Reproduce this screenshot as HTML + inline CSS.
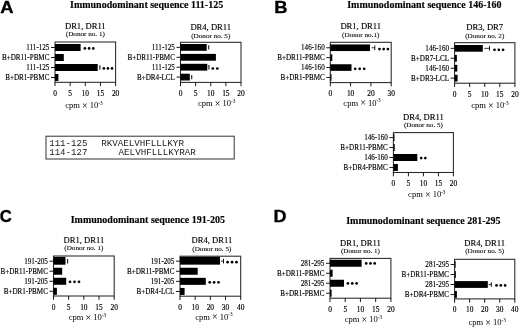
<!DOCTYPE html>
<html><head><meta charset="utf-8"><style>
html,body{margin:0;padding:0;background:#fff;}
body{width:520px;height:328px;overflow:hidden;}
svg{display:block;filter:grayscale(1) blur(0.3px);}
</style></head><body>
<svg width="520" height="328" viewBox="0 0 520 328">
<rect width="520" height="328" fill="#fff"/>
<text transform="translate(0.20,13.10) scale(1.07,1)" x="0" y="0" font-size="17.2" text-anchor="start" font-weight="bold" font-family='"Liberation Sans", sans-serif' fill="#000"  stroke="#000" stroke-width="0.35">A</text>
<text transform="translate(274.30,12.75) scale(1.07,1)" x="0" y="0" font-size="17.2" text-anchor="start" font-weight="bold" font-family='"Liberation Sans", sans-serif' fill="#000"  stroke="#000" stroke-width="0.35">B</text>
<text transform="translate(-0.30,221.80) scale(0.97,1)" x="0" y="0" font-size="17.2" text-anchor="start" font-weight="bold" font-family='"Liberation Sans", sans-serif' fill="#000"  stroke="#000" stroke-width="0.35">C</text>
<text transform="translate(273.50,221.70) scale(1.05,1)" x="0" y="0" font-size="17.2" text-anchor="start" font-weight="bold" font-family='"Liberation Sans", sans-serif' fill="#000"  stroke="#000" stroke-width="0.35">D</text>
<text transform="translate(70.00,7.50) scale(0.962,1)" x="0" y="0" font-size="10.4" text-anchor="start" font-weight="bold" font-family='"Liberation Serif", serif' fill="#000"  stroke="#000" stroke-width="0.15">Immunodominant sequence 111-125</text>
<text transform="translate(347.20,8.30) scale(0.962,1)" x="0" y="0" font-size="10.4" text-anchor="start" font-weight="bold" font-family='"Liberation Serif", serif' fill="#000"  stroke="#000" stroke-width="0.15">Immunodominant sequence 146-160</text>
<text transform="translate(70.70,222.80) scale(0.962,1)" x="0" y="0" font-size="10.4" text-anchor="start" font-weight="bold" font-family='"Liberation Serif", serif' fill="#000"  stroke="#000" stroke-width="0.15">Immunodominant sequence 191-205</text>
<text transform="translate(346.20,223.60) scale(0.962,1)" x="0" y="0" font-size="10.4" text-anchor="start" font-weight="bold" font-family='"Liberation Serif", serif' fill="#000"  stroke="#000" stroke-width="0.15">Immunodominant sequence 281-295</text>
<rect x="55.00" y="42.00" width="60.60" height="40.30" fill="none" stroke="#262626" stroke-width="1.05"/>
<text x="85.30" y="29.00" font-size="8.6" text-anchor="middle" font-weight="normal" font-family='"Liberation Serif", serif' fill="#000"  stroke="#000" stroke-width="0.15">DR1, DR11</text>
<text transform="translate(85.30,36.40) scale(1.05,1)" x="0" y="0" font-size="6.8" text-anchor="middle" font-weight="normal" font-family='"Liberation Serif", serif' fill="#000"  stroke="#000" stroke-width="0.08">(Donor no. 1)</text>
<line x1="51.00" y1="47.50" x2="55.00" y2="47.50" stroke="#000" stroke-width="0.9"/>
<text transform="translate(49.40,50.00) scale(0.935,1)" x="0" y="0" font-size="7.6" text-anchor="end" font-weight="normal" font-family='"Liberation Serif", serif' fill="#000"  stroke="#000" stroke-width="0.15">111-125</text>
<rect x="55.00" y="44.00" width="25.60" height="7.00" fill="#000"/>
<line x1="51.00" y1="57.50" x2="55.00" y2="57.50" stroke="#000" stroke-width="0.9"/>
<text transform="translate(49.40,60.00) scale(0.935,1)" x="0" y="0" font-size="7.6" text-anchor="end" font-weight="normal" font-family='"Liberation Serif", serif' fill="#000"  stroke="#000" stroke-width="0.15">B+DR11-PBMC</text>
<rect x="55.00" y="54.00" width="8.80" height="7.00" fill="#000"/>
<line x1="51.00" y1="67.50" x2="55.00" y2="67.50" stroke="#000" stroke-width="0.9"/>
<text transform="translate(49.40,70.00) scale(0.935,1)" x="0" y="0" font-size="7.6" text-anchor="end" font-weight="normal" font-family='"Liberation Serif", serif' fill="#000"  stroke="#000" stroke-width="0.15">111-125</text>
<rect x="55.00" y="64.00" width="42.70" height="7.00" fill="#000"/>
<line x1="51.00" y1="77.50" x2="55.00" y2="77.50" stroke="#000" stroke-width="0.9"/>
<text transform="translate(49.40,80.00) scale(0.935,1)" x="0" y="0" font-size="7.6" text-anchor="end" font-weight="normal" font-family='"Liberation Serif", serif' fill="#000"  stroke="#000" stroke-width="0.15">B+DR1-PBMC</text>
<rect x="55.00" y="74.00" width="3.40" height="7.00" fill="#000"/>
<line x1="55.00" y1="82.30" x2="55.00" y2="86.10" stroke="#000" stroke-width="0.9"/>
<text x="55.00" y="95.80" font-size="7.4" text-anchor="middle" font-weight="normal" font-family='"Liberation Serif", serif' fill="#000"  stroke="#000" stroke-width="0.15">0</text>
<line x1="70.15" y1="82.30" x2="70.15" y2="86.10" stroke="#000" stroke-width="0.9"/>
<text x="70.15" y="95.80" font-size="7.4" text-anchor="middle" font-weight="normal" font-family='"Liberation Serif", serif' fill="#000"  stroke="#000" stroke-width="0.15">5</text>
<line x1="85.30" y1="82.30" x2="85.30" y2="86.10" stroke="#000" stroke-width="0.9"/>
<text x="85.30" y="95.80" font-size="7.4" text-anchor="middle" font-weight="normal" font-family='"Liberation Serif", serif' fill="#000"  stroke="#000" stroke-width="0.15">10</text>
<line x1="100.45" y1="82.30" x2="100.45" y2="86.10" stroke="#000" stroke-width="0.9"/>
<text x="100.45" y="95.80" font-size="7.4" text-anchor="middle" font-weight="normal" font-family='"Liberation Serif", serif' fill="#000"  stroke="#000" stroke-width="0.15">15</text>
<line x1="115.60" y1="82.30" x2="115.60" y2="86.10" stroke="#000" stroke-width="0.9"/>
<text x="115.60" y="95.80" font-size="7.4" text-anchor="middle" font-weight="normal" font-family='"Liberation Serif", serif' fill="#000"  stroke="#000" stroke-width="0.15">20</text>
<text x="84.00" y="108.20" font-size="8.5" text-anchor="middle" font-family='"Liberation Serif", serif' fill="#000">cpm <tspan font-size="10" dy="0.8">×</tspan> <tspan dy="-0.8">10</tspan><tspan font-size="5.2" dy="-3.3">-3</tspan></text>
<circle cx="84.90" cy="48.45" r="1.35" fill="#000"/>
<circle cx="89.10" cy="48.45" r="1.35" fill="#000"/>
<circle cx="93.30" cy="48.45" r="1.35" fill="#000"/>
<line x1="99.90" y1="65.30" x2="99.90" y2="69.70" stroke="#222" stroke-width="1.15"/>
<circle cx="103.80" cy="68.45" r="1.35" fill="#000"/>
<circle cx="107.90" cy="68.45" r="1.35" fill="#000"/>
<circle cx="112.00" cy="68.45" r="1.35" fill="#000"/>
<rect x="180.50" y="42.30" width="60.50" height="40.10" fill="none" stroke="#262626" stroke-width="1.05"/>
<text x="210.75" y="30.40" font-size="8.6" text-anchor="middle" font-weight="normal" font-family='"Liberation Serif", serif' fill="#000"  stroke="#000" stroke-width="0.15">DR4, DR11</text>
<text transform="translate(210.75,37.70) scale(1.05,1)" x="0" y="0" font-size="6.8" text-anchor="middle" font-weight="normal" font-family='"Liberation Serif", serif' fill="#000"  stroke="#000" stroke-width="0.08">(Donor no. 5)</text>
<line x1="176.50" y1="47.40" x2="180.50" y2="47.40" stroke="#000" stroke-width="0.9"/>
<text transform="translate(174.90,49.90) scale(0.935,1)" x="0" y="0" font-size="7.6" text-anchor="end" font-weight="normal" font-family='"Liberation Serif", serif' fill="#000"  stroke="#000" stroke-width="0.15">111-125</text>
<rect x="180.50" y="44.00" width="26.20" height="6.80" fill="#000"/>
<line x1="176.50" y1="57.30" x2="180.50" y2="57.30" stroke="#000" stroke-width="0.9"/>
<text transform="translate(174.90,59.80) scale(0.935,1)" x="0" y="0" font-size="7.6" text-anchor="end" font-weight="normal" font-family='"Liberation Serif", serif' fill="#000"  stroke="#000" stroke-width="0.15">B+DR11-PBMC</text>
<rect x="180.50" y="53.90" width="35.40" height="6.80" fill="#000"/>
<line x1="176.50" y1="67.20" x2="180.50" y2="67.20" stroke="#000" stroke-width="0.9"/>
<text transform="translate(174.90,69.70) scale(0.935,1)" x="0" y="0" font-size="7.6" text-anchor="end" font-weight="normal" font-family='"Liberation Serif", serif' fill="#000"  stroke="#000" stroke-width="0.15">111-125</text>
<rect x="180.50" y="63.80" width="26.80" height="6.80" fill="#000"/>
<line x1="176.50" y1="77.10" x2="180.50" y2="77.10" stroke="#000" stroke-width="0.9"/>
<text transform="translate(174.90,79.60) scale(0.935,1)" x="0" y="0" font-size="7.6" text-anchor="end" font-weight="normal" font-family='"Liberation Serif", serif' fill="#000"  stroke="#000" stroke-width="0.15">B+DR4-LCL</text>
<rect x="180.50" y="73.70" width="9.30" height="6.80" fill="#000"/>
<line x1="180.50" y1="82.40" x2="180.50" y2="86.20" stroke="#000" stroke-width="0.9"/>
<text x="180.50" y="95.90" font-size="7.4" text-anchor="middle" font-weight="normal" font-family='"Liberation Serif", serif' fill="#000"  stroke="#000" stroke-width="0.15">0</text>
<line x1="195.62" y1="82.40" x2="195.62" y2="86.20" stroke="#000" stroke-width="0.9"/>
<text x="195.62" y="95.90" font-size="7.4" text-anchor="middle" font-weight="normal" font-family='"Liberation Serif", serif' fill="#000"  stroke="#000" stroke-width="0.15">5</text>
<line x1="210.75" y1="82.40" x2="210.75" y2="86.20" stroke="#000" stroke-width="0.9"/>
<text x="210.75" y="95.90" font-size="7.4" text-anchor="middle" font-weight="normal" font-family='"Liberation Serif", serif' fill="#000"  stroke="#000" stroke-width="0.15">10</text>
<line x1="225.88" y1="82.40" x2="225.88" y2="86.20" stroke="#000" stroke-width="0.9"/>
<text x="225.88" y="95.90" font-size="7.4" text-anchor="middle" font-weight="normal" font-family='"Liberation Serif", serif' fill="#000"  stroke="#000" stroke-width="0.15">15</text>
<line x1="241.00" y1="82.40" x2="241.00" y2="86.20" stroke="#000" stroke-width="0.9"/>
<text x="241.00" y="95.90" font-size="7.4" text-anchor="middle" font-weight="normal" font-family='"Liberation Serif", serif' fill="#000"  stroke="#000" stroke-width="0.15">20</text>
<text x="216.75" y="106.40" font-size="8.5" text-anchor="middle" font-family='"Liberation Serif", serif' fill="#000">cpm <tspan font-size="10" dy="0.8">×</tspan> <tspan dy="-0.8">10</tspan><tspan font-size="5.2" dy="-3.3">-3</tspan></text>
<line x1="208.70" y1="45.20" x2="208.70" y2="49.60" stroke="#222" stroke-width="1.15"/>
<line x1="208.90" y1="65.00" x2="208.90" y2="69.40" stroke="#222" stroke-width="1.15"/>
<circle cx="212.80" cy="68.50" r="1.35" fill="#000"/>
<circle cx="217.30" cy="68.50" r="1.35" fill="#000"/>
<line x1="191.70" y1="74.90" x2="191.70" y2="79.30" stroke="#222" stroke-width="1.15"/>
<rect x="330.30" y="42.30" width="60.90" height="40.30" fill="none" stroke="#262626" stroke-width="1.05"/>
<text x="360.75" y="29.30" font-size="8.6" text-anchor="middle" font-weight="normal" font-family='"Liberation Serif", serif' fill="#000"  stroke="#000" stroke-width="0.15">DR1, DR11</text>
<text transform="translate(360.75,37.10) scale(1.05,1)" x="0" y="0" font-size="6.8" text-anchor="middle" font-weight="normal" font-family='"Liberation Serif", serif' fill="#000"  stroke="#000" stroke-width="0.08">(Donor no.1)</text>
<line x1="326.30" y1="47.75" x2="330.30" y2="47.75" stroke="#000" stroke-width="0.9"/>
<text transform="translate(324.70,50.25) scale(0.935,1)" x="0" y="0" font-size="7.6" text-anchor="end" font-weight="normal" font-family='"Liberation Serif", serif' fill="#000"  stroke="#000" stroke-width="0.15">146-160</text>
<rect x="330.30" y="44.45" width="39.70" height="6.60" fill="#000"/>
<line x1="326.30" y1="57.65" x2="330.30" y2="57.65" stroke="#000" stroke-width="0.9"/>
<text transform="translate(324.70,60.15) scale(0.935,1)" x="0" y="0" font-size="7.6" text-anchor="end" font-weight="normal" font-family='"Liberation Serif", serif' fill="#000"  stroke="#000" stroke-width="0.15">B+DR11-PBMC</text>
<rect x="330.30" y="54.35" width="2.00" height="6.60" fill="#000"/>
<line x1="326.30" y1="67.55" x2="330.30" y2="67.55" stroke="#000" stroke-width="0.9"/>
<text transform="translate(324.70,70.05) scale(0.935,1)" x="0" y="0" font-size="7.6" text-anchor="end" font-weight="normal" font-family='"Liberation Serif", serif' fill="#000"  stroke="#000" stroke-width="0.15">146-160</text>
<rect x="330.30" y="64.25" width="21.20" height="6.60" fill="#000"/>
<line x1="326.30" y1="77.45" x2="330.30" y2="77.45" stroke="#000" stroke-width="0.9"/>
<text transform="translate(324.70,79.95) scale(0.935,1)" x="0" y="0" font-size="7.6" text-anchor="end" font-weight="normal" font-family='"Liberation Serif", serif' fill="#000"  stroke="#000" stroke-width="0.15">B+DR1-PBMC</text>
<rect x="330.30" y="74.15" width="1.20" height="6.60" fill="#000"/>
<line x1="330.30" y1="82.60" x2="330.30" y2="86.40" stroke="#000" stroke-width="0.9"/>
<text x="330.30" y="96.10" font-size="7.4" text-anchor="middle" font-weight="normal" font-family='"Liberation Serif", serif' fill="#000"  stroke="#000" stroke-width="0.15">0</text>
<line x1="350.60" y1="82.60" x2="350.60" y2="86.40" stroke="#000" stroke-width="0.9"/>
<text x="350.60" y="96.10" font-size="7.4" text-anchor="middle" font-weight="normal" font-family='"Liberation Serif", serif' fill="#000"  stroke="#000" stroke-width="0.15">10</text>
<line x1="370.90" y1="82.60" x2="370.90" y2="86.40" stroke="#000" stroke-width="0.9"/>
<text x="370.90" y="96.10" font-size="7.4" text-anchor="middle" font-weight="normal" font-family='"Liberation Serif", serif' fill="#000"  stroke="#000" stroke-width="0.15">20</text>
<line x1="391.20" y1="82.60" x2="391.20" y2="86.40" stroke="#000" stroke-width="0.9"/>
<text x="391.20" y="96.10" font-size="7.4" text-anchor="middle" font-weight="normal" font-family='"Liberation Serif", serif' fill="#000"  stroke="#000" stroke-width="0.15">30</text>
<text x="362.05" y="105.60" font-size="8.5" text-anchor="middle" font-family='"Liberation Serif", serif' fill="#000">cpm <tspan font-size="10" dy="0.8">×</tspan> <tspan dy="-0.8">10</tspan><tspan font-size="5.2" dy="-3.3">-3</tspan></text>
<line x1="371.60" y1="47.75" x2="374.80" y2="47.75" stroke="#222" stroke-width="0.9"/>
<line x1="374.80" y1="45.45" x2="374.80" y2="50.05" stroke="#111" stroke-width="1.0"/>
<circle cx="379.50" cy="49.05" r="1.35" fill="#000"/>
<circle cx="383.70" cy="49.05" r="1.35" fill="#000"/>
<circle cx="387.90" cy="49.05" r="1.35" fill="#000"/>
<circle cx="355.20" cy="68.85" r="1.35" fill="#000"/>
<circle cx="359.70" cy="68.85" r="1.35" fill="#000"/>
<circle cx="364.20" cy="68.85" r="1.35" fill="#000"/>
<rect x="454.60" y="42.70" width="60.30" height="40.50" fill="none" stroke="#262626" stroke-width="1.05"/>
<text x="484.75" y="30.10" font-size="8.6" text-anchor="middle" font-weight="normal" font-family='"Liberation Serif", serif' fill="#000"  stroke="#000" stroke-width="0.15">DR3, DR7</text>
<text transform="translate(484.75,37.50) scale(1.05,1)" x="0" y="0" font-size="6.8" text-anchor="middle" font-weight="normal" font-family='"Liberation Serif", serif' fill="#000"  stroke="#000" stroke-width="0.08">(Donor no. 2)</text>
<line x1="450.60" y1="48.35" x2="454.60" y2="48.35" stroke="#000" stroke-width="0.9"/>
<text transform="translate(449.00,50.85) scale(0.935,1)" x="0" y="0" font-size="7.6" text-anchor="end" font-weight="normal" font-family='"Liberation Serif", serif' fill="#000"  stroke="#000" stroke-width="0.15">146-160</text>
<rect x="454.60" y="45.00" width="28.20" height="6.70" fill="#000"/>
<line x1="450.60" y1="58.28" x2="454.60" y2="58.28" stroke="#000" stroke-width="0.9"/>
<text transform="translate(449.00,60.78) scale(0.935,1)" x="0" y="0" font-size="7.6" text-anchor="end" font-weight="normal" font-family='"Liberation Serif", serif' fill="#000"  stroke="#000" stroke-width="0.15">B+DR7-LCL</text>
<rect x="454.60" y="54.93" width="2.30" height="6.70" fill="#000"/>
<line x1="450.60" y1="68.21" x2="454.60" y2="68.21" stroke="#000" stroke-width="0.9"/>
<text transform="translate(449.00,70.71) scale(0.935,1)" x="0" y="0" font-size="7.6" text-anchor="end" font-weight="normal" font-family='"Liberation Serif", serif' fill="#000"  stroke="#000" stroke-width="0.15">146-160</text>
<rect x="454.60" y="64.86" width="2.70" height="6.70" fill="#000"/>
<line x1="450.60" y1="78.14" x2="454.60" y2="78.14" stroke="#000" stroke-width="0.9"/>
<text transform="translate(449.00,80.64) scale(0.935,1)" x="0" y="0" font-size="7.6" text-anchor="end" font-weight="normal" font-family='"Liberation Serif", serif' fill="#000"  stroke="#000" stroke-width="0.15">B+DR3-LCL</text>
<rect x="454.60" y="74.79" width="3.00" height="6.70" fill="#000"/>
<line x1="454.60" y1="83.20" x2="454.60" y2="87.00" stroke="#000" stroke-width="0.9"/>
<text x="454.60" y="96.70" font-size="7.4" text-anchor="middle" font-weight="normal" font-family='"Liberation Serif", serif' fill="#000"  stroke="#000" stroke-width="0.15">0</text>
<line x1="469.68" y1="83.20" x2="469.68" y2="87.00" stroke="#000" stroke-width="0.9"/>
<text x="469.68" y="96.70" font-size="7.4" text-anchor="middle" font-weight="normal" font-family='"Liberation Serif", serif' fill="#000"  stroke="#000" stroke-width="0.15">5</text>
<line x1="484.75" y1="83.20" x2="484.75" y2="87.00" stroke="#000" stroke-width="0.9"/>
<text x="484.75" y="96.70" font-size="7.4" text-anchor="middle" font-weight="normal" font-family='"Liberation Serif", serif' fill="#000"  stroke="#000" stroke-width="0.15">10</text>
<line x1="499.82" y1="83.20" x2="499.82" y2="87.00" stroke="#000" stroke-width="0.9"/>
<text x="499.82" y="96.70" font-size="7.4" text-anchor="middle" font-weight="normal" font-family='"Liberation Serif", serif' fill="#000"  stroke="#000" stroke-width="0.15">15</text>
<line x1="514.90" y1="83.20" x2="514.90" y2="87.00" stroke="#000" stroke-width="0.9"/>
<text x="514.90" y="96.70" font-size="7.4" text-anchor="middle" font-weight="normal" font-family='"Liberation Serif", serif' fill="#000"  stroke="#000" stroke-width="0.15">20</text>
<text x="489.85" y="107.80" font-size="8.5" text-anchor="middle" font-family='"Liberation Serif", serif' fill="#000">cpm <tspan font-size="10" dy="0.8">×</tspan> <tspan dy="-0.8">10</tspan><tspan font-size="5.2" dy="-3.3">-3</tspan></text>
<line x1="484.20" y1="48.35" x2="489.50" y2="48.35" stroke="#222" stroke-width="0.9"/>
<line x1="489.50" y1="46.05" x2="489.50" y2="50.65" stroke="#111" stroke-width="1.0"/>
<circle cx="494.50" cy="49.85" r="1.35" fill="#000"/>
<circle cx="498.80" cy="49.85" r="1.35" fill="#000"/>
<circle cx="503.10" cy="49.85" r="1.35" fill="#000"/>
<rect x="393.40" y="132.60" width="60.00" height="39.90" fill="none" stroke="#262626" stroke-width="1.05"/>
<text x="423.40" y="120.40" font-size="8.6" text-anchor="middle" font-weight="normal" font-family='"Liberation Serif", serif' fill="#000"  stroke="#000" stroke-width="0.15">DR4, DR11</text>
<text transform="translate(423.40,127.30) scale(1.05,1)" x="0" y="0" font-size="6.8" text-anchor="middle" font-weight="normal" font-family='"Liberation Serif", serif' fill="#000"  stroke="#000" stroke-width="0.08">(Donor no. 5)</text>
<line x1="389.40" y1="137.60" x2="393.40" y2="137.60" stroke="#000" stroke-width="0.9"/>
<text transform="translate(387.80,140.10) scale(0.935,1)" x="0" y="0" font-size="7.6" text-anchor="end" font-weight="normal" font-family='"Liberation Serif", serif' fill="#000"  stroke="#000" stroke-width="0.15">146-160</text>
<rect x="393.40" y="134.10" width="1.10" height="7.00" fill="#000"/>
<line x1="389.40" y1="147.55" x2="393.40" y2="147.55" stroke="#000" stroke-width="0.9"/>
<text transform="translate(387.80,150.05) scale(0.935,1)" x="0" y="0" font-size="7.6" text-anchor="end" font-weight="normal" font-family='"Liberation Serif", serif' fill="#000"  stroke="#000" stroke-width="0.15">B+DR11-PBMC</text>
<rect x="393.40" y="144.05" width="1.30" height="7.00" fill="#000"/>
<line x1="389.40" y1="157.50" x2="393.40" y2="157.50" stroke="#000" stroke-width="0.9"/>
<text transform="translate(387.80,160.00) scale(0.935,1)" x="0" y="0" font-size="7.6" text-anchor="end" font-weight="normal" font-family='"Liberation Serif", serif' fill="#000"  stroke="#000" stroke-width="0.15">146-160</text>
<rect x="393.40" y="154.00" width="23.90" height="7.00" fill="#000"/>
<line x1="389.40" y1="167.45" x2="393.40" y2="167.45" stroke="#000" stroke-width="0.9"/>
<text transform="translate(387.80,169.95) scale(0.935,1)" x="0" y="0" font-size="7.6" text-anchor="end" font-weight="normal" font-family='"Liberation Serif", serif' fill="#000"  stroke="#000" stroke-width="0.15">B+DR4-PBMC</text>
<rect x="393.40" y="163.95" width="4.50" height="7.00" fill="#000"/>
<line x1="393.40" y1="172.50" x2="393.40" y2="176.30" stroke="#000" stroke-width="0.9"/>
<text x="393.40" y="186.00" font-size="7.4" text-anchor="middle" font-weight="normal" font-family='"Liberation Serif", serif' fill="#000"  stroke="#000" stroke-width="0.15">0</text>
<line x1="408.40" y1="172.50" x2="408.40" y2="176.30" stroke="#000" stroke-width="0.9"/>
<text x="408.40" y="186.00" font-size="7.4" text-anchor="middle" font-weight="normal" font-family='"Liberation Serif", serif' fill="#000"  stroke="#000" stroke-width="0.15">5</text>
<line x1="423.40" y1="172.50" x2="423.40" y2="176.30" stroke="#000" stroke-width="0.9"/>
<text x="423.40" y="186.00" font-size="7.4" text-anchor="middle" font-weight="normal" font-family='"Liberation Serif", serif' fill="#000"  stroke="#000" stroke-width="0.15">10</text>
<line x1="438.40" y1="172.50" x2="438.40" y2="176.30" stroke="#000" stroke-width="0.9"/>
<text x="438.40" y="186.00" font-size="7.4" text-anchor="middle" font-weight="normal" font-family='"Liberation Serif", serif' fill="#000"  stroke="#000" stroke-width="0.15">15</text>
<line x1="453.40" y1="172.50" x2="453.40" y2="176.30" stroke="#000" stroke-width="0.9"/>
<text x="453.40" y="186.00" font-size="7.4" text-anchor="middle" font-weight="normal" font-family='"Liberation Serif", serif' fill="#000"  stroke="#000" stroke-width="0.15">20</text>
<text x="426.80" y="196.80" font-size="8.5" text-anchor="middle" font-family='"Liberation Serif", serif' fill="#000">cpm <tspan font-size="10" dy="0.8">×</tspan> <tspan dy="-0.8">10</tspan><tspan font-size="5.2" dy="-3.3">-3</tspan></text>
<circle cx="421.20" cy="158.10" r="1.35" fill="#000"/>
<circle cx="425.30" cy="158.10" r="1.35" fill="#000"/>
<rect x="53.50" y="256.00" width="60.70" height="40.00" fill="none" stroke="#262626" stroke-width="1.05"/>
<text x="83.85" y="242.80" font-size="8.6" text-anchor="middle" font-weight="normal" font-family='"Liberation Serif", serif' fill="#000"  stroke="#000" stroke-width="0.15">DR1, DR11</text>
<text transform="translate(83.85,250.45) scale(1.05,1)" x="0" y="0" font-size="6.8" text-anchor="middle" font-weight="normal" font-family='"Liberation Serif", serif' fill="#000"  stroke="#000" stroke-width="0.08">(Donor no. 1)</text>
<line x1="49.50" y1="261.20" x2="53.50" y2="261.20" stroke="#000" stroke-width="0.9"/>
<text transform="translate(47.90,263.70) scale(0.935,1)" x="0" y="0" font-size="7.6" text-anchor="end" font-weight="normal" font-family='"Liberation Serif", serif' fill="#000"  stroke="#000" stroke-width="0.15">191-205</text>
<rect x="53.50" y="256.90" width="12.00" height="7.80" fill="#000"/>
<line x1="49.50" y1="271.23" x2="53.50" y2="271.23" stroke="#000" stroke-width="0.9"/>
<text transform="translate(47.90,273.73) scale(0.935,1)" x="0" y="0" font-size="7.6" text-anchor="end" font-weight="normal" font-family='"Liberation Serif", serif' fill="#000"  stroke="#000" stroke-width="0.15">B+DR11-PBMC</text>
<rect x="53.50" y="267.73" width="8.70" height="7.00" fill="#000"/>
<line x1="49.50" y1="281.26" x2="53.50" y2="281.26" stroke="#000" stroke-width="0.9"/>
<text transform="translate(47.90,283.76) scale(0.935,1)" x="0" y="0" font-size="7.6" text-anchor="end" font-weight="normal" font-family='"Liberation Serif", serif' fill="#000"  stroke="#000" stroke-width="0.15">191-205</text>
<rect x="53.50" y="277.76" width="12.70" height="7.00" fill="#000"/>
<line x1="49.50" y1="291.29" x2="53.50" y2="291.29" stroke="#000" stroke-width="0.9"/>
<text transform="translate(47.90,293.79) scale(0.935,1)" x="0" y="0" font-size="7.6" text-anchor="end" font-weight="normal" font-family='"Liberation Serif", serif' fill="#000"  stroke="#000" stroke-width="0.15">B+DR1-PBMC</text>
<rect x="53.50" y="287.79" width="3.40" height="7.00" fill="#000"/>
<line x1="53.50" y1="296.00" x2="53.50" y2="299.80" stroke="#000" stroke-width="0.9"/>
<text x="53.50" y="309.50" font-size="7.4" text-anchor="middle" font-weight="normal" font-family='"Liberation Serif", serif' fill="#000"  stroke="#000" stroke-width="0.15">0</text>
<line x1="68.67" y1="296.00" x2="68.67" y2="299.80" stroke="#000" stroke-width="0.9"/>
<text x="68.67" y="309.50" font-size="7.4" text-anchor="middle" font-weight="normal" font-family='"Liberation Serif", serif' fill="#000"  stroke="#000" stroke-width="0.15">5</text>
<line x1="83.85" y1="296.00" x2="83.85" y2="299.80" stroke="#000" stroke-width="0.9"/>
<text x="83.85" y="309.50" font-size="7.4" text-anchor="middle" font-weight="normal" font-family='"Liberation Serif", serif' fill="#000"  stroke="#000" stroke-width="0.15">10</text>
<line x1="99.03" y1="296.00" x2="99.03" y2="299.80" stroke="#000" stroke-width="0.9"/>
<text x="99.03" y="309.50" font-size="7.4" text-anchor="middle" font-weight="normal" font-family='"Liberation Serif", serif' fill="#000"  stroke="#000" stroke-width="0.15">15</text>
<line x1="114.20" y1="296.00" x2="114.20" y2="299.80" stroke="#000" stroke-width="0.9"/>
<text x="114.20" y="309.50" font-size="7.4" text-anchor="middle" font-weight="normal" font-family='"Liberation Serif", serif' fill="#000"  stroke="#000" stroke-width="0.15">20</text>
<text x="87.45" y="319.80" font-size="8.5" text-anchor="middle" font-family='"Liberation Serif", serif' fill="#000">cpm <tspan font-size="10" dy="0.8">×</tspan> <tspan dy="-0.8">10</tspan><tspan font-size="5.2" dy="-3.3">-3</tspan></text>
<line x1="67.60" y1="259.00" x2="67.60" y2="263.40" stroke="#222" stroke-width="1.15"/>
<circle cx="70.00" cy="281.86" r="1.35" fill="#000"/>
<circle cx="74.50" cy="281.86" r="1.35" fill="#000"/>
<circle cx="79.00" cy="281.86" r="1.35" fill="#000"/>
<rect x="180.00" y="256.20" width="60.70" height="40.00" fill="none" stroke="#262626" stroke-width="1.05"/>
<text x="211.85" y="243.40" font-size="8.6" text-anchor="middle" font-weight="normal" font-family='"Liberation Serif", serif' fill="#000"  stroke="#000" stroke-width="0.15">DR4, DR11</text>
<text transform="translate(211.85,250.80) scale(1.05,1)" x="0" y="0" font-size="6.8" text-anchor="middle" font-weight="normal" font-family='"Liberation Serif", serif' fill="#000"  stroke="#000" stroke-width="0.08">(Donor no. 5)</text>
<line x1="176.00" y1="261.15" x2="180.00" y2="261.15" stroke="#000" stroke-width="0.9"/>
<text transform="translate(174.40,263.65) scale(0.935,1)" x="0" y="0" font-size="7.6" text-anchor="end" font-weight="normal" font-family='"Liberation Serif", serif' fill="#000"  stroke="#000" stroke-width="0.15">191-205</text>
<rect x="180.00" y="256.85" width="40.00" height="7.80" fill="#000"/>
<line x1="176.00" y1="271.25" x2="180.00" y2="271.25" stroke="#000" stroke-width="0.9"/>
<text transform="translate(174.40,273.75) scale(0.935,1)" x="0" y="0" font-size="7.6" text-anchor="end" font-weight="normal" font-family='"Liberation Serif", serif' fill="#000"  stroke="#000" stroke-width="0.15">B+DR11-PBMC</text>
<rect x="180.00" y="267.75" width="17.70" height="7.00" fill="#000"/>
<line x1="176.00" y1="281.35" x2="180.00" y2="281.35" stroke="#000" stroke-width="0.9"/>
<text transform="translate(174.40,283.85) scale(0.935,1)" x="0" y="0" font-size="7.6" text-anchor="end" font-weight="normal" font-family='"Liberation Serif", serif' fill="#000"  stroke="#000" stroke-width="0.15">191-205</text>
<rect x="180.00" y="277.85" width="25.80" height="7.00" fill="#000"/>
<line x1="176.00" y1="291.45" x2="180.00" y2="291.45" stroke="#000" stroke-width="0.9"/>
<text transform="translate(174.40,293.95) scale(0.935,1)" x="0" y="0" font-size="7.6" text-anchor="end" font-weight="normal" font-family='"Liberation Serif", serif' fill="#000"  stroke="#000" stroke-width="0.15">B+DR4-LCL</text>
<rect x="180.00" y="287.95" width="4.60" height="7.00" fill="#000"/>
<line x1="180.00" y1="296.20" x2="180.00" y2="300.00" stroke="#000" stroke-width="0.9"/>
<text x="180.00" y="309.70" font-size="7.4" text-anchor="middle" font-weight="normal" font-family='"Liberation Serif", serif' fill="#000"  stroke="#000" stroke-width="0.15">0</text>
<line x1="195.18" y1="296.20" x2="195.18" y2="300.00" stroke="#000" stroke-width="0.9"/>
<text x="195.18" y="309.70" font-size="7.4" text-anchor="middle" font-weight="normal" font-family='"Liberation Serif", serif' fill="#000"  stroke="#000" stroke-width="0.15">10</text>
<line x1="210.35" y1="296.20" x2="210.35" y2="300.00" stroke="#000" stroke-width="0.9"/>
<text x="210.35" y="309.70" font-size="7.4" text-anchor="middle" font-weight="normal" font-family='"Liberation Serif", serif' fill="#000"  stroke="#000" stroke-width="0.15">20</text>
<line x1="225.52" y1="296.20" x2="225.52" y2="300.00" stroke="#000" stroke-width="0.9"/>
<text x="225.52" y="309.70" font-size="7.4" text-anchor="middle" font-weight="normal" font-family='"Liberation Serif", serif' fill="#000"  stroke="#000" stroke-width="0.15">30</text>
<line x1="240.70" y1="296.20" x2="240.70" y2="300.00" stroke="#000" stroke-width="0.9"/>
<text x="240.70" y="309.70" font-size="7.4" text-anchor="middle" font-weight="normal" font-family='"Liberation Serif", serif' fill="#000"  stroke="#000" stroke-width="0.15">40</text>
<text x="213.85" y="319.50" font-size="8.5" text-anchor="middle" font-family='"Liberation Serif", serif' fill="#000">cpm <tspan font-size="10" dy="0.8">×</tspan> <tspan dy="-0.8">10</tspan><tspan font-size="5.2" dy="-3.3">-3</tspan></text>
<line x1="220.80" y1="261.15" x2="223.50" y2="261.15" stroke="#222" stroke-width="0.9"/>
<line x1="223.50" y1="258.85" x2="223.50" y2="263.45" stroke="#111" stroke-width="1.0"/>
<circle cx="227.60" cy="262.15" r="1.35" fill="#000"/>
<circle cx="232.05" cy="262.15" r="1.35" fill="#000"/>
<circle cx="236.50" cy="262.15" r="1.35" fill="#000"/>
<circle cx="209.70" cy="282.35" r="1.35" fill="#000"/>
<circle cx="214.10" cy="282.35" r="1.35" fill="#000"/>
<circle cx="218.50" cy="282.35" r="1.35" fill="#000"/>
<rect x="330.00" y="258.40" width="60.90" height="39.80" fill="none" stroke="#262626" stroke-width="1.05"/>
<text x="360.45" y="245.50" font-size="8.6" text-anchor="middle" font-weight="normal" font-family='"Liberation Serif", serif' fill="#000"  stroke="#000" stroke-width="0.15">DR1, DR11</text>
<text transform="translate(360.45,253.30) scale(1.05,1)" x="0" y="0" font-size="6.8" text-anchor="middle" font-weight="normal" font-family='"Liberation Serif", serif' fill="#000"  stroke="#000" stroke-width="0.08">(Donor no. 1)</text>
<line x1="326.00" y1="263.25" x2="330.00" y2="263.25" stroke="#000" stroke-width="0.9"/>
<text transform="translate(324.40,265.75) scale(0.935,1)" x="0" y="0" font-size="7.6" text-anchor="end" font-weight="normal" font-family='"Liberation Serif", serif' fill="#000"  stroke="#000" stroke-width="0.15">281-295</text>
<rect x="330.00" y="259.75" width="31.60" height="7.00" fill="#000"/>
<line x1="326.00" y1="273.25" x2="330.00" y2="273.25" stroke="#000" stroke-width="0.9"/>
<text transform="translate(324.40,275.75) scale(0.935,1)" x="0" y="0" font-size="7.6" text-anchor="end" font-weight="normal" font-family='"Liberation Serif", serif' fill="#000"  stroke="#000" stroke-width="0.15">B+DR11-PBMC</text>
<rect x="330.00" y="269.75" width="2.60" height="7.00" fill="#000"/>
<line x1="326.00" y1="283.25" x2="330.00" y2="283.25" stroke="#000" stroke-width="0.9"/>
<text transform="translate(324.40,285.75) scale(0.935,1)" x="0" y="0" font-size="7.6" text-anchor="end" font-weight="normal" font-family='"Liberation Serif", serif' fill="#000"  stroke="#000" stroke-width="0.15">281-295</text>
<rect x="330.00" y="279.75" width="14.00" height="7.00" fill="#000"/>
<line x1="326.00" y1="293.25" x2="330.00" y2="293.25" stroke="#000" stroke-width="0.9"/>
<text transform="translate(324.40,295.75) scale(0.935,1)" x="0" y="0" font-size="7.6" text-anchor="end" font-weight="normal" font-family='"Liberation Serif", serif' fill="#000"  stroke="#000" stroke-width="0.15">B+DR1-PBMC</text>
<rect x="330.00" y="289.75" width="1.60" height="7.00" fill="#000"/>
<line x1="330.00" y1="298.20" x2="330.00" y2="302.00" stroke="#000" stroke-width="0.9"/>
<text x="330.00" y="311.70" font-size="7.4" text-anchor="middle" font-weight="normal" font-family='"Liberation Serif", serif' fill="#000"  stroke="#000" stroke-width="0.15">0</text>
<line x1="345.23" y1="298.20" x2="345.23" y2="302.00" stroke="#000" stroke-width="0.9"/>
<text x="345.23" y="311.70" font-size="7.4" text-anchor="middle" font-weight="normal" font-family='"Liberation Serif", serif' fill="#000"  stroke="#000" stroke-width="0.15">5</text>
<line x1="360.45" y1="298.20" x2="360.45" y2="302.00" stroke="#000" stroke-width="0.9"/>
<text x="360.45" y="311.70" font-size="7.4" text-anchor="middle" font-weight="normal" font-family='"Liberation Serif", serif' fill="#000"  stroke="#000" stroke-width="0.15">10</text>
<line x1="375.67" y1="298.20" x2="375.67" y2="302.00" stroke="#000" stroke-width="0.9"/>
<text x="375.67" y="311.70" font-size="7.4" text-anchor="middle" font-weight="normal" font-family='"Liberation Serif", serif' fill="#000"  stroke="#000" stroke-width="0.15">15</text>
<line x1="390.90" y1="298.20" x2="390.90" y2="302.00" stroke="#000" stroke-width="0.9"/>
<text x="390.90" y="311.70" font-size="7.4" text-anchor="middle" font-weight="normal" font-family='"Liberation Serif", serif' fill="#000"  stroke="#000" stroke-width="0.15">20</text>
<text x="363.35" y="322.10" font-size="8.5" text-anchor="middle" font-family='"Liberation Serif", serif' fill="#000">cpm <tspan font-size="10" dy="0.8">×</tspan> <tspan dy="-0.8">10</tspan><tspan font-size="5.2" dy="-3.3">-3</tspan></text>
<circle cx="366.20" cy="263.45" r="1.35" fill="#000"/>
<circle cx="370.45" cy="263.45" r="1.35" fill="#000"/>
<circle cx="374.70" cy="263.45" r="1.35" fill="#000"/>
<circle cx="347.90" cy="283.45" r="1.35" fill="#000"/>
<circle cx="352.25" cy="283.45" r="1.35" fill="#000"/>
<circle cx="356.60" cy="283.45" r="1.35" fill="#000"/>
<rect x="454.60" y="259.30" width="60.20" height="39.60" fill="none" stroke="#262626" stroke-width="1.05"/>
<text x="484.70" y="245.80" font-size="8.6" text-anchor="middle" font-weight="normal" font-family='"Liberation Serif", serif' fill="#000"  stroke="#000" stroke-width="0.15">DR4, DR11</text>
<text transform="translate(484.70,253.30) scale(1.05,1)" x="0" y="0" font-size="6.8" text-anchor="middle" font-weight="normal" font-family='"Liberation Serif", serif' fill="#000"  stroke="#000" stroke-width="0.08">(Donor no. 5)</text>
<line x1="450.60" y1="264.50" x2="454.60" y2="264.50" stroke="#000" stroke-width="0.9"/>
<text transform="translate(449.00,267.00) scale(0.935,1)" x="0" y="0" font-size="7.6" text-anchor="end" font-weight="normal" font-family='"Liberation Serif", serif' fill="#000"  stroke="#000" stroke-width="0.15">281-295</text>
<rect x="454.60" y="261.10" width="1.00" height="6.80" fill="#000"/>
<line x1="450.60" y1="274.50" x2="454.60" y2="274.50" stroke="#000" stroke-width="0.9"/>
<text transform="translate(449.00,277.00) scale(0.935,1)" x="0" y="0" font-size="7.6" text-anchor="end" font-weight="normal" font-family='"Liberation Serif", serif' fill="#000"  stroke="#000" stroke-width="0.15">B+DR11-PBMC</text>
<rect x="454.60" y="271.10" width="1.20" height="6.80" fill="#000"/>
<line x1="450.60" y1="284.50" x2="454.60" y2="284.50" stroke="#000" stroke-width="0.9"/>
<text transform="translate(449.00,287.00) scale(0.935,1)" x="0" y="0" font-size="7.6" text-anchor="end" font-weight="normal" font-family='"Liberation Serif", serif' fill="#000"  stroke="#000" stroke-width="0.15">281-295</text>
<rect x="454.60" y="281.10" width="33.20" height="6.80" fill="#000"/>
<line x1="450.60" y1="294.50" x2="454.60" y2="294.50" stroke="#000" stroke-width="0.9"/>
<text transform="translate(449.00,297.00) scale(0.935,1)" x="0" y="0" font-size="7.6" text-anchor="end" font-weight="normal" font-family='"Liberation Serif", serif' fill="#000"  stroke="#000" stroke-width="0.15">B+DR4-PBMC</text>
<rect x="454.60" y="291.10" width="2.30" height="6.80" fill="#000"/>
<line x1="454.60" y1="298.90" x2="454.60" y2="302.70" stroke="#000" stroke-width="0.9"/>
<text x="454.60" y="312.40" font-size="7.4" text-anchor="middle" font-weight="normal" font-family='"Liberation Serif", serif' fill="#000"  stroke="#000" stroke-width="0.15">0</text>
<line x1="469.65" y1="298.90" x2="469.65" y2="302.70" stroke="#000" stroke-width="0.9"/>
<text x="469.65" y="312.40" font-size="7.4" text-anchor="middle" font-weight="normal" font-family='"Liberation Serif", serif' fill="#000"  stroke="#000" stroke-width="0.15">10</text>
<line x1="484.70" y1="298.90" x2="484.70" y2="302.70" stroke="#000" stroke-width="0.9"/>
<text x="484.70" y="312.40" font-size="7.4" text-anchor="middle" font-weight="normal" font-family='"Liberation Serif", serif' fill="#000"  stroke="#000" stroke-width="0.15">20</text>
<line x1="499.75" y1="298.90" x2="499.75" y2="302.70" stroke="#000" stroke-width="0.9"/>
<text x="499.75" y="312.40" font-size="7.4" text-anchor="middle" font-weight="normal" font-family='"Liberation Serif", serif' fill="#000"  stroke="#000" stroke-width="0.15">30</text>
<line x1="514.80" y1="298.90" x2="514.80" y2="302.70" stroke="#000" stroke-width="0.9"/>
<text x="514.80" y="312.40" font-size="7.4" text-anchor="middle" font-weight="normal" font-family='"Liberation Serif", serif' fill="#000"  stroke="#000" stroke-width="0.15">40</text>
<text x="487.10" y="325.00" font-size="8.5" text-anchor="middle" font-family='"Liberation Serif", serif' fill="#000">cpm <tspan font-size="10" dy="0.8">×</tspan> <tspan dy="-0.8">10</tspan><tspan font-size="5.2" dy="-3.3">-3</tspan></text>
<line x1="488.60" y1="284.50" x2="491.30" y2="284.50" stroke="#222" stroke-width="0.9"/>
<line x1="491.30" y1="282.20" x2="491.30" y2="286.80" stroke="#111" stroke-width="1.0"/>
<circle cx="496.50" cy="285.40" r="1.35" fill="#000"/>
<circle cx="500.80" cy="285.40" r="1.35" fill="#000"/>
<circle cx="505.10" cy="285.40" r="1.35" fill="#000"/>
<rect x="46" y="136.2" width="188.2" height="22.8" fill="none" stroke="#333" stroke-width="1"/>
<text x="49.20" y="145.80" font-size="9.1" text-anchor="start" font-weight="normal" font-family='"Liberation Mono", monospace' fill="#222" >111-125</text>
<text x="101.20" y="145.80" font-size="9.2" text-anchor="start" font-weight="normal" font-family='"Liberation Mono", monospace' fill="#222" >RKVAELVHFLLLKYR</text>
<text x="49.20" y="154.60" font-size="9.1" text-anchor="start" font-weight="normal" font-family='"Liberation Mono", monospace' fill="#222" >114-127</text>
<text x="118.60" y="154.60" font-size="9.2" text-anchor="start" font-weight="normal" font-family='"Liberation Mono", monospace' fill="#222" >AELVHFLLLKYRAR</text>
</svg>
</body></html>
